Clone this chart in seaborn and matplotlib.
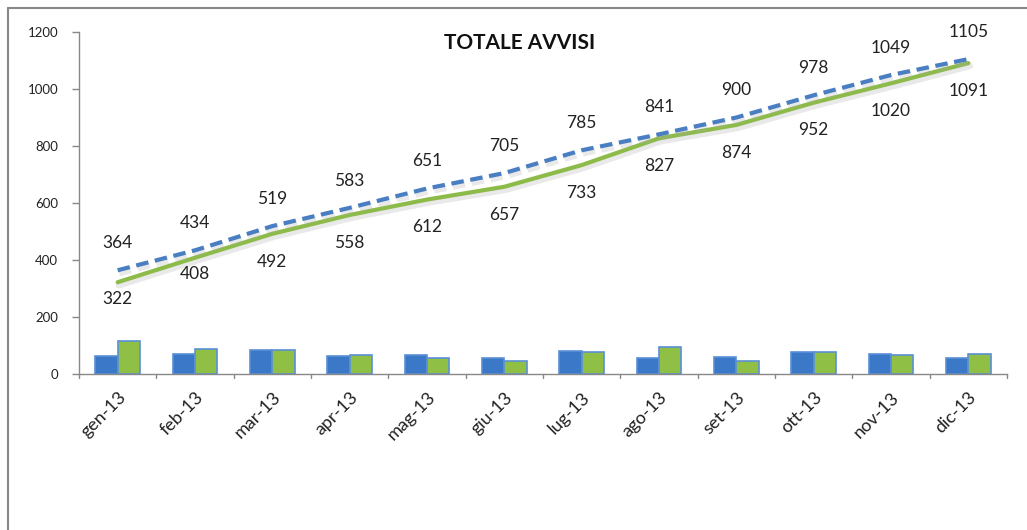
import numpy as np
import pandas as pd
import matplotlib
matplotlib.use("Agg")
import matplotlib.pyplot as plt
import matplotlib.patheffects as pe
import seaborn as sns

months = ["gen-13", "feb-13", "mar-13", "apr-13", "mag-13", "giu-13",
          "lug-13", "ago-13", "set-13", "ott-13", "nov-13", "dic-13"]
tot_blue = [364, 434, 519, 583, 651, 705, 785, 841, 900, 978, 1049, 1105]
tot_green = [322, 408, 492, 558, 612, 657, 733, 827, 874, 952, 1020, 1091]
month_blue = [63, 70, 85, 64, 68, 56, 80, 56, 59, 78, 71, 56]
month_green = [115, 86, 84, 66, 55, 47, 76, 94, 47, 78, 68, 71]

sns.set_theme(style="white")
plt.rcParams["font.family"] = ["Lato", "DejaVu Sans"]

fig = plt.figure(figsize=(10.27, 5.30), dpi=100)
ax = fig.add_axes([79/1027, 1-374/530, (1007-79)/1027, (374-32)/530])

blue_bar = "#3B78C8"
green_bar = "#8FBF45"
blue_line = "#4A7EC2"
green_line = "#8DBB4A"

df = pd.DataFrame({
    "month": months * 2,
    "value": month_blue + month_green,
    "serie": ["A"] * 12 + ["B"] * 12,
})
sns.barplot(data=df, x="month", y="value", hue="serie",
            palette=[blue_bar, green_bar], width=0.58, ax=ax,
            legend=False, edgecolor=["#5A8FD6"] * 12 + ["#A8D45E"] * 12,
            linewidth=1.2, saturation=1)

x = np.arange(len(months))
shadow = [pe.SimpleLineShadow(offset=(1, -2), shadow_color="#aaaaaa", alpha=0.25, linewidth=5),
          pe.Normal()]
sns.lineplot(x=x, y=tot_green, ax=ax, color=green_line, linewidth=3,
             path_effects=shadow)
sns.lineplot(x=x, y=tot_blue, ax=ax, color=blue_line, linewidth=3,
             linestyle=(0, (3, 1.6)), path_effects=shadow)

for i in range(len(months)):
    ax.annotate(str(tot_blue[i]), (x[i], tot_blue[i]), xytext=(0, 19.5),
                textcoords="offset points", ha="center", va="center",
                fontsize=12.5, color="#222222")
    gdy = -12 if i < 2 else -20
    ax.annotate(str(tot_green[i]), (x[i], tot_green[i]), xytext=(0, gdy),
                textcoords="offset points", ha="center", va="center",
                fontsize=12.5, color="#222222")

ax.set_xlim(-0.5, 11.5)
ax.set_ylim(0, 1200)
ax.set_yticks(range(0, 1201, 200))
ax.set_yticklabels([str(v) for v in range(0, 1201, 200)], fontsize=9.5, color="#222222")
ax.set_xticks(x)
ax.set_xticklabels(months, rotation=45, ha="right", rotation_mode="anchor",
                   fontsize=13, color="#222222")
ax.tick_params(axis="x", length=0, pad=11)
ax.tick_params(axis="y", length=5, width=1, color="#888888", left=True, pad=10)
for b in np.arange(-0.5, 12, 1):
    ax.plot([b, b], [0, -14], color="#888888", lw=1, clip_on=False,
            transform=ax.transData)
ax.set_xlabel("")
ax.set_ylabel("")
for s in ["top", "right"]:
    ax.spines[s].set_visible(False)
for s in ["left", "bottom"]:
    ax.spines[s].set_color("#888888")
    ax.spines[s].set_linewidth(1)

fig.text(520/1027, 1-43/530, "TOTALE AVVISI", ha="center", va="center",
         fontsize=15, fontweight="bold", color="#111111")

# outer chart border (left and top visible)
fig.add_artist(plt.Line2D([8/1027, 8/1027], [0, 1-8/530], transform=fig.transFigure,
                          color="#888888", lw=1.5))
fig.add_artist(plt.Line2D([8/1027, 1], [1-8/530, 1-8/530], transform=fig.transFigure,
                          color="#888888", lw=1.5))

fig.savefig("out.png", dpi=100)
